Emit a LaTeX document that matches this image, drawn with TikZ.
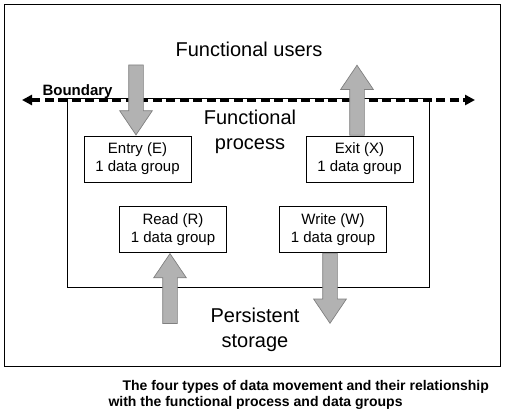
\documentclass[tikz,border=0pt]{standalone}
\usepackage{fontspec}
\setmainfont{Liberation Sans}
\usetikzlibrary{positioning, shapes.arrows, arrows.meta}

\begin{document}
\begin{tikzpicture}[x=1pt, y=-1pt, node distance=222pt, on grid,
    databox/.style={draw, line width=0.9pt, fill=white, minimum width=107pt,
      minimum height=46pt, align=center, inner sep=0pt,
      font=\fontsize{15}{18}\selectfont},
    bigtext/.style={align=center, font=\fontsize{20}{24.5}\selectfont},
    move/.style={single arrow, draw=black!50, fill=black!30, line width=0.7pt,
      minimum height=70pt, inner xsep=0pt, inner ysep=7pt,
      single arrow head extend=9pt, single arrow tip angle=68}]

   \useasboundingbox (0,0) rectangle (508,413);
   \node[draw, line width=0.8pt, minimum width=496pt, minimum height=362pt,
     inner sep=0pt] (frame) at (252,185) {};

   \node[draw, line width=1pt, minimum width=362pt, minimum height=189pt,
     inner sep=0pt] (process) at (248,192.5) {};

   \coordinate (bl) at (22,100);
   \coordinate (br) at (475,100);
   \draw[line width=3.2pt, dash pattern=on 9pt off 4.5pt,
     {Triangle[width=10pt,length=10pt]}-{Triangle[width=10pt,length=10pt]}] (bl) -- (br);
   \node[font=\fontsize{15}{18}\selectfont\bfseries, anchor=base west] (boundary)
     at (39,95) {Boundary};

   \node[bigtext] (users) at (249,49) {Functional users};
   \node[bigtext] (fp) at (250,132) {Functional\\process};
   \node[bigtext] (storage) at (255,330) {Persistent\\storage};

   \node[databox] (entry) at (137.5,159) {Entry (E)\\1 data group};
   \node[databox, right=of entry] (exit) {Exit (X)\\1 data group};
   \node[databox, below right=70.5pt and 35.5pt of entry] (read) {Read (R)\\1 data group};
   \node[databox, right=160pt of read] (write) {Write (W)\\1 data group};

   \node[move, rotate=-90, anchor=tip] (e) at ([xshift=-1.5pt]entry.north) {};
   \node[move, rotate=90, anchor=tail] (x) at ([xshift=-2.5pt]exit.north) {};
   \node[move, rotate=90, anchor=tip] (r) at ([xshift=-3pt]read.south) {};
   \node[move, rotate=-90, anchor=tail] (w) at ([xshift=-3pt]write.south) {};

   \node[font=\fontsize{14}{16}\selectfont\bfseries, anchor=base west] (cap1)
     at (119,390.5) {The four types of data movement and their relationship};
   \node[font=\fontsize{14}{16}\selectfont\bfseries, anchor=base west] (cap2)
     at (105,406.5) {with the functional process and data groups};
\end{tikzpicture}
\end{document}
